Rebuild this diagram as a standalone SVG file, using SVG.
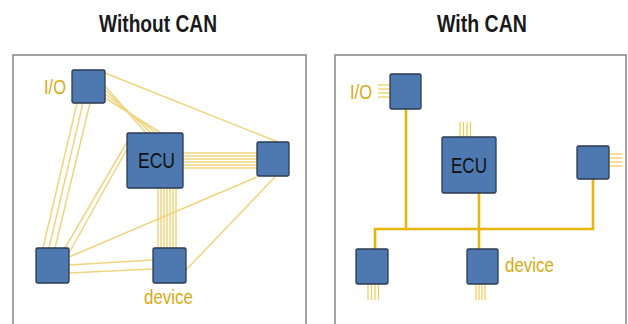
<svg xmlns="http://www.w3.org/2000/svg" width="628" height="324" viewBox="0 0 628 324">
<defs>
<style>
.frame{fill:#fff;stroke:#8c8c8c;stroke-width:1.6}
.node{fill:#4d79b0;stroke:#2b3a4f;stroke-width:1.3}
.thin{stroke:#f0d47e;stroke-width:1.5;fill:none}
.bus{stroke:#e8b40e;stroke-width:2.6;fill:none;stroke-linecap:square}
.stub{stroke:#f0cc55;stroke-width:1.2;fill:none}
.title{font-family:"Liberation Sans",Arial,sans-serif;font-weight:bold;font-size:23px;fill:#1a1a1a}
.lbl{font-family:"Liberation Sans",Arial,sans-serif;font-size:21px;fill:#d9aa12}
.ecu{font-family:"Liberation Sans",Arial,sans-serif;font-size:22px;fill:#111}
</style>
</defs>
<rect width="628" height="324" fill="#fff"/>
<text class="title" x="99" y="32" textLength="118" lengthAdjust="spacingAndGlyphs">Without CAN</text>
<text class="title" x="437" y="32" textLength="90" lengthAdjust="spacingAndGlyphs">With CAN</text>
<rect class="frame" x="13" y="55" width="293" height="280"/>
<rect class="frame" x="335" y="55" width="291" height="280"/>
<g id="connectors">
<g id="left-wires">
<line class="thin" x1="105" y1="73" x2="278" y2="142"/>
<line class="thin" x1="105" y1="86" x2="146" y2="133"/>
<line class="thin" x1="105" y1="90" x2="151" y2="133"/>
<line class="thin" x1="105" y1="94" x2="156" y2="133"/>
<line class="thin" x1="105" y1="98" x2="161" y2="133"/>
<line class="thin" x1="77" y1="103" x2="43" y2="248"/>
<line class="thin" x1="83" y1="103" x2="49" y2="248"/>
<line class="thin" x1="90" y1="103" x2="55" y2="248"/>
<line class="thin" x1="127" y1="142" x2="65" y2="248"/>
<line class="thin" x1="127" y1="149" x2="69" y2="253"/>
<line class="thin" x1="183" y1="153" x2="257" y2="153"/>
<line class="thin" x1="183" y1="156" x2="257" y2="156"/>
<line class="thin" x1="183" y1="159" x2="257" y2="159"/>
<line class="thin" x1="183" y1="162" x2="257" y2="162"/>
<line class="thin" x1="183" y1="165" x2="257" y2="165"/>
<line class="thin" x1="183" y1="168" x2="257" y2="168"/>
<line class="thin" x1="158" y1="188" x2="158" y2="248"/>
<line class="thin" x1="161" y1="188" x2="161" y2="248"/>
<line class="thin" x1="164" y1="188" x2="164" y2="248"/>
<line class="thin" x1="167" y1="188" x2="167" y2="248"/>
<line class="thin" x1="170" y1="188" x2="170" y2="248"/>
<line class="thin" x1="173" y1="188" x2="173" y2="248"/>
<line class="thin" x1="176" y1="188" x2="176" y2="248"/>
<line class="thin" x1="257" y1="177" x2="69" y2="257"/>
<line class="thin" x1="275" y1="177" x2="186" y2="270"/>
<line class="thin" x1="69" y1="265" x2="153" y2="260"/>
<line class="thin" x1="69" y1="273" x2="153" y2="269"/>
</g>
<g id="right-bus">
<polyline class="bus" points="375,249 375,229 593,229 593,179"/>
<line class="bus" x1="406" y1="109" x2="406" y2="229"/>
<line class="bus" x1="479" y1="193" x2="479" y2="249"/>
</g>
<g id="stubs">
<line class="stub" x1="378" y1="85" x2="390" y2="85"/>
<line class="stub" x1="378" y1="89" x2="390" y2="89"/>
<line class="stub" x1="378" y1="93" x2="390" y2="93"/>
<line class="stub" x1="378" y1="97" x2="390" y2="97"/>
<line class="stub" x1="460" y1="122" x2="460" y2="137"/>
<line class="stub" x1="463.5" y1="122" x2="463.5" y2="137"/>
<line class="stub" x1="467" y1="122" x2="467" y2="137"/>
<line class="stub" x1="470.5" y1="122" x2="470.5" y2="137"/>
<line class="stub" x1="609" y1="154" x2="622" y2="154"/>
<line class="stub" x1="609" y1="158" x2="622" y2="158"/>
<line class="stub" x1="609" y1="162" x2="622" y2="162"/>
<line class="stub" x1="609" y1="166" x2="622" y2="166"/>
<line class="stub" x1="368" y1="284" x2="368" y2="300"/>
<line class="stub" x1="371.5" y1="284" x2="371.5" y2="300"/>
<line class="stub" x1="375" y1="284" x2="375" y2="300"/>
<line class="stub" x1="378.5" y1="284" x2="378.5" y2="300"/>
<line class="stub" x1="476" y1="284" x2="476" y2="300"/>
<line class="stub" x1="479" y1="284" x2="479" y2="300"/>
<line class="stub" x1="482" y1="284" x2="482" y2="300"/>
<line class="stub" x1="485" y1="284" x2="485" y2="300"/>
</g>
</g>
<g id="L-io"><rect class="node" x="72" y="70" width="33" height="33" rx="1.5"/><text class="lbl" x="44" y="94" textLength="22" lengthAdjust="spacingAndGlyphs">I/O</text></g>
<g id="L-ecu"><rect class="node" x="127" y="133" width="56" height="55" rx="1.5"/><text class="ecu" x="138" y="168" textLength="37" lengthAdjust="spacingAndGlyphs">ECU</text></g>
<g id="L-right"><rect class="node" x="257" y="142" width="32" height="34" rx="1.5"/></g>
<g id="L-bl"><rect class="node" x="36" y="248" width="33" height="35" rx="1.5"/></g>
<g id="L-device"><rect class="node" x="153" y="248" width="33" height="35" rx="1.5"/><text class="lbl" x="144" y="304" textLength="49" lengthAdjust="spacingAndGlyphs">device</text></g>
<g id="R-io"><rect class="node" x="390" y="74" width="31" height="35" rx="1.5"/><text class="lbl" x="350" y="99" textLength="22" lengthAdjust="spacingAndGlyphs">I/O</text></g>
<g id="R-ecu"><rect class="node" x="442" y="137" width="54" height="56" rx="1.5"/><text class="ecu" x="451" y="173" textLength="36" lengthAdjust="spacingAndGlyphs">ECU</text></g>
<g id="R-right"><rect class="node" x="577" y="146" width="32" height="33" rx="1.5"/></g>
<g id="R-bl"><rect class="node" x="356" y="249" width="32" height="35" rx="1.5"/></g>
<g id="R-device"><rect class="node" x="467" y="249" width="31" height="35" rx="1.5"/><text class="lbl" x="505" y="272" textLength="49" lengthAdjust="spacingAndGlyphs">device</text></g>
</svg>
